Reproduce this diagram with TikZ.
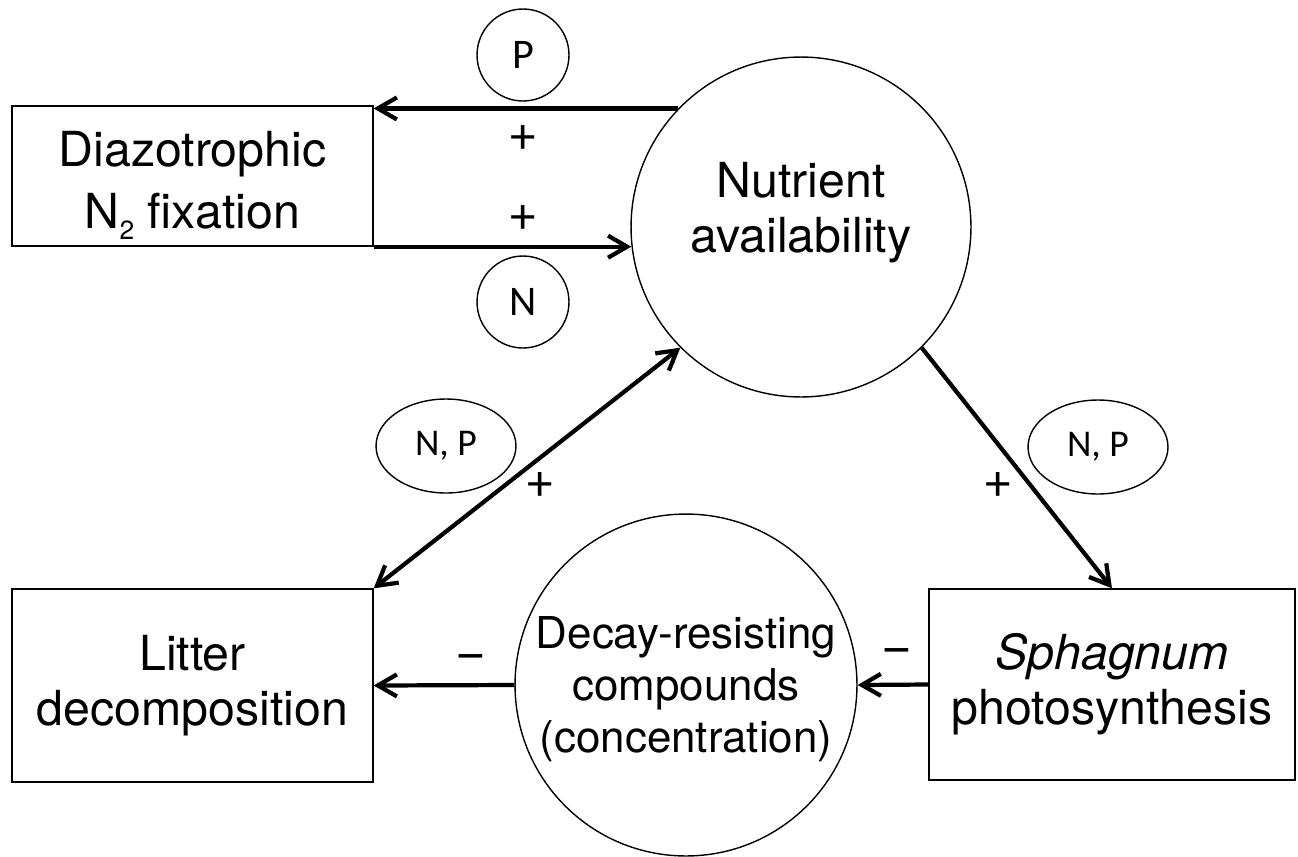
\documentclass[tikz,border=0pt]{standalone}
\usepackage{fontspec}
\setmainfont{TeX Gyre Heros}
\newfontfamily\calib{Carlito}
\usetikzlibrary{arrows.meta,shapes.geometric}
\begin{document}
\begin{tikzpicture}[x=0.02cm,y=-0.02cm,
  box/.style={draw,line width=0.8pt,rectangle,align=center,inner sep=0pt,font=\fontsize{27.5}{31.3}\selectfont},
  bigc/.style={draw,circle,line width=0.8pt,inner sep=0pt},
  txt/.style={align=center,inner sep=0pt},
  lab/.style={draw,circle,line width=0.8pt,inner sep=0pt,minimum size=1.84cm,font=\calib\fontsize{24}{28}\selectfont},
  npe/.style={draw,ellipse,line width=0.8pt,inner sep=0pt,minimum width=2.8cm,minimum height=1.88cm,font=\calib\fontsize{21.5}{25}\selectfont},
  sgn/.style={inner sep=0pt,font=\calib\fontsize{29}{32}\selectfont},
  msgn/.style={inner sep=0pt,font=\fontsize{30}{32}\selectfont},
  arr/.style={line width=2.4pt,-{Straight Barb[length=3.8mm,width=4.4mm]}},
  darr/.style={line width=2.4pt,{Straight Barb[length=3.8mm,width=4.4mm]}-{Straight Barb[length=3.8mm,width=4.4mm]}}]
\useasboundingbox (0,0) rectangle (1298,856);
% main nodes
\node[box,minimum width=7.22cm,minimum height=2.8cm] (diaz) at (192.5,176) {};
\node[txt,anchor=base,font=\fontsize{27.5}{31.3}\selectfont] (diaz1) at (192.5,166) {Diazotrophic};
\node[txt,anchor=base,font=\fontsize{27.5}{31.3}\selectfont] (diaz2) at (192.5,228) {N\raisebox{-0.22cm}{\fontsize{15}{15}\selectfont 2} fixation};
\node[bigc,minimum size=6.8cm] (nut) at (801,227) {};
\node[txt,font=\fontsize{27.5}{31.3}\selectfont] (nutt) at (801,213) {Nutrient\\availability};
\node[box,minimum width=7.22cm,minimum height=3.86cm] (lit) at (192.5,685.5) {Litter\\decomposition};
\node[bigc,minimum size=6.84cm] (dec) at (686,685) {};
\node[txt,font=\fontsize{25}{29.5}\selectfont] (dect) at (686,689) {Decay-resisting\\compounds\\(concentration)};
\node[box,minimum width=7.32cm,minimum height=3.82cm] (sph) at (1112,684.5) {\textit{Sphagnum}\\photosynthesis};
% labels
\node[lab] (p) at (523,55) {P};
\node[lab] (n) at (523,302) {N};
\node[npe] (npl) at (446,446) {N, P};
\node[npe] (npr) at (1098,447) {N, P};
\node[sgn] (s1) at (523,139) {+};
\node[sgn] (s2) at (523,219) {+};
\node[sgn] (s3) at (540,486) {+};
\node[sgn] (s4) at (998,486) {+};
\node[msgn] (s5) at (471,662) {−};
\node[msgn] (s6) at (897,656) {−};
% connectors
\draw[arr] (nut.136.4) -- (nut.136.4 -| diaz.east);
\draw[arr] (diaz.south east) -- (diaz.south east -| nut.186.4);
\draw[darr] (lit.north east) -- (nut.225);
\draw[arr] (nut.-45) -- (sph.north);
\draw[arr] (sph.west) -- (dec.east);
\draw[arr] (dec.west) -- (lit.east);
\end{tikzpicture}
\end{document}
